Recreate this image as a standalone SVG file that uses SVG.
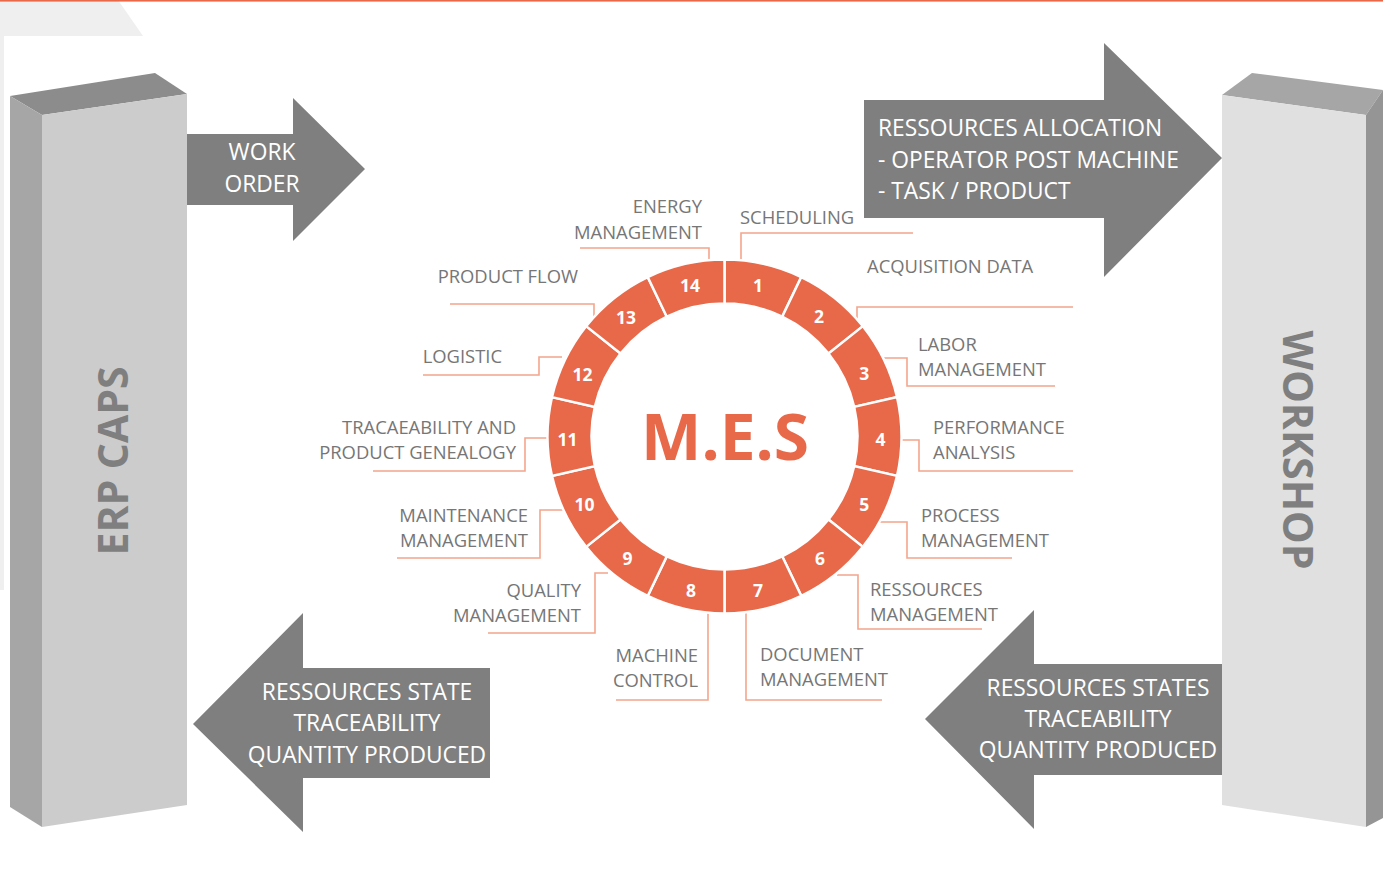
<svg xmlns="http://www.w3.org/2000/svg" width="1383" height="881" viewBox="0 0 1383 881">
<style>
.arr{fill:#7f7f7f}
.at{font-family:"Open Sans","Liberation Sans",sans-serif;font-size:22.8px;fill:#ffffff}
.lb{font-family:"Open Sans","Liberation Sans",sans-serif;font-size:18.4px;fill:#767676}
.seg{fill:#e8694a;stroke:#ffffff;stroke-width:2.5}
.num{font-family:"Open Sans","Liberation Sans",sans-serif;font-size:17.5px;font-weight:700;fill:#ffffff;text-anchor:middle}
.con{fill:none;stroke:#f4a58c;stroke-width:1.6}
.big{font-family:"Open Sans","Liberation Sans",sans-serif;font-size:41px;font-weight:700;fill:#7f7f7f;text-anchor:middle}
.e{text-anchor:end}
.m{text-anchor:middle}
</style>
<rect x="0" y="0" width="1383" height="881" fill="#ffffff"/>
<polygon points="0,0 118,0 143,36 4,36 4,590 0,590" fill="#efefef"/>
<rect x="0" y="0" width="1383" height="1.6" fill="#e8694a"/>

<g id="erp">
<polygon points="10,96 155,73 187,94 42,115" fill="#8c8c8c"/>
<polygon points="10,96 42,115 42,827 10,807" fill="#a6a6a6"/>
<polygon points="42,115 187,94 187,805 42,827" fill="#cccccc"/>
<text class="big" transform="translate(128,461) rotate(-90)">ERP CAPS</text>
</g>

<g id="workshop">
<polygon points="1222,95 1252,73 1383,90 1366,115" fill="#a6a6a6"/>
<polygon points="1366,115 1383,90 1383,818 1366,827" fill="#959595"/>
<polygon points="1222,95 1366,115 1366,827 1222,805" fill="#e0e0e0"/>
<text class="big" transform="translate(1283,450) rotate(90)">WORKSHOP</text>
</g>

<g id="work-order">
<path class="arr" d="M187,134 H293 V98 L365,169 L293,241 V205 H187 Z"/>
<text class="at m" x="262" y="160">WORK</text>
<text class="at m" x="262" y="192">ORDER</text>
</g>

<g id="allocation">
<path class="arr" d="M864,100 H1104 V43 L1222,158 L1104,277 V218 H864 Z"/>
<text class="at" x="878" y="136">RESSOURCES ALLOCATION</text>
<text class="at" x="878" y="168">- OPERATOR POST MACHINE</text>
<text class="at" x="878" y="199">- TASK / PRODUCT</text>
</g>

<g id="state-left">
<path class="arr" d="M490,668 H303 V613 L193,724 L303,832 V778 H490 Z"/>
<text class="at m" x="367" y="700">RESSOURCES STATE</text>
<text class="at m" x="367" y="731">TRACEABILITY</text>
<text class="at m" x="367" y="763">QUANTITY PRODUCED</text>
</g>

<g id="state-right">
<path class="arr" d="M1222,664 H1034 V610 L925,719 L1034,829 V775 H1222 Z"/>
<text class="at m" x="1098" y="696">RESSOURCES STATES</text>
<text class="at m" x="1098" y="727">TRACEABILITY</text>
<text class="at m" x="1098" y="758">QUANTITY PRODUCED</text>
</g>

<g id="connectors">
<polyline class="con" points="741,262 741,233 913,233"/>
<polyline class="con" points="857,322 857,307 1073,307"/>
<polyline class="con" points="709,261 709,248 580,248"/>
<polyline class="con" points="594,322 594,304 450,304"/>
<polyline class="con" points="562,357 539,357 539,375 423,375"/>
<polyline class="con" points="549,438 525,438 525,471 373,471"/>
<polyline class="con" points="563,510 540,510 540,558 397,558"/>
<polyline class="con" points="608,573 595,573 595,633 488,633"/>
<polyline class="con" points="708,612 708,700 616,700"/>
<polyline class="con" points="746,612 746,700 882,700"/>
<polyline class="con" points="837,575 858,575 858,629 982,629"/>
<polyline class="con" points="879,522 907,522 907,558 1012,558"/>
<polyline class="con" points="899,440 919,440 919,471 1073,471"/>
<polyline class="con" points="883,358 907,358 907,386 1055,386"/>
</g>

<g id="mes">
<text x="725" y="460" font-family="'Open Sans','Liberation Sans',sans-serif" font-size="64" font-weight="700" fill="#e8694a" text-anchor="middle">M.E.S</text>
</g>

<g id="seg1"><path class="seg" d="M724.5,259.5 A177,177 0 0 1 801.3,277.03 L782.21,316.67 A133,133 0 0 0 724.5,303.5 Z"/><text class="num" x="758" y="292">1</text></g>
<g id="seg2"><path class="seg" d="M801.3,277.03 A177,177 0 0 1 862.88,326.14 L828.48,353.58 A133,133 0 0 0 782.21,316.67 Z"/><text class="num" x="819" y="323">2</text></g>
<g id="seg3"><path class="seg" d="M862.88,326.14 A177,177 0 0 1 897.06,397.11 L854.17,406.9 A133,133 0 0 0 828.48,353.58 Z"/><text class="num" x="864.2" y="380">3</text></g>
<g id="seg4"><path class="seg" d="M897.06,397.11 A177,177 0 0 1 897.06,475.89 L854.17,466.1 A133,133 0 0 0 854.17,406.9 Z"/><text class="num" x="880.5" y="446">4</text></g>
<g id="seg5"><path class="seg" d="M897.06,475.89 A177,177 0 0 1 862.88,546.86 L828.48,519.42 A133,133 0 0 0 854.17,466.1 Z"/><text class="num" x="864.2" y="511">5</text></g>
<g id="seg6"><path class="seg" d="M862.88,546.86 A177,177 0 0 1 801.3,595.97 L782.21,556.33 A133,133 0 0 0 828.48,519.42 Z"/><text class="num" x="820" y="565">6</text></g>
<g id="seg7"><path class="seg" d="M801.3,595.97 A177,177 0 0 1 724.5,613.5 L724.5,569.5 A133,133 0 0 0 782.21,556.33 Z"/><text class="num" x="758" y="597">7</text></g>
<g id="seg8"><path class="seg" d="M724.5,613.5 A177,177 0 0 1 647.7,595.97 L666.79,556.33 A133,133 0 0 0 724.5,569.5 Z"/><text class="num" x="691" y="597">8</text></g>
<g id="seg9"><path class="seg" d="M647.7,595.97 A177,177 0 0 1 586.12,546.86 L620.52,519.42 A133,133 0 0 0 666.79,556.33 Z"/><text class="num" x="627.5" y="564.5">9</text></g>
<g id="seg10"><path class="seg" d="M586.12,546.86 A177,177 0 0 1 551.94,475.89 L594.83,466.1 A133,133 0 0 0 620.52,519.42 Z"/><text class="num" x="584.5" y="511">10</text></g>
<g id="seg11"><path class="seg" d="M551.94,475.89 A177,177 0 0 1 551.94,397.11 L594.83,406.9 A133,133 0 0 0 594.83,466.1 Z"/><text class="num" x="567.5" y="446">11</text></g>
<g id="seg12"><path class="seg" d="M551.94,397.11 A177,177 0 0 1 586.12,326.14 L620.52,353.58 A133,133 0 0 0 594.83,406.9 Z"/><text class="num" x="582.5" y="381">12</text></g>
<g id="seg13"><path class="seg" d="M586.12,326.14 A177,177 0 0 1 647.7,277.03 L666.79,316.67 A133,133 0 0 0 620.52,353.58 Z"/><text class="num" x="626" y="324">13</text></g>
<g id="seg14"><path class="seg" d="M647.7,277.03 A177,177 0 0 1 724.5,259.5 L724.5,303.5 A133,133 0 0 0 666.79,316.67 Z"/><text class="num" x="690" y="292">14</text></g>

<g id="labels">
<text class="lb" x="740" y="224">SCHEDULING</text>
<text class="lb" x="867" y="273">ACQUISITION DATA</text>
<text class="lb e" x="702" y="213">ENERGY</text>
<text class="lb e" x="702" y="239">MANAGEMENT</text>
<text class="lb e" x="578" y="283">PRODUCT FLOW</text>
<text class="lb e" x="502" y="363">LOGISTIC</text>
<text class="lb e" x="516" y="434">TRACAEABILITY AND</text>
<text class="lb e" x="516" y="459">PRODUCT GENEALOGY</text>
<text class="lb e" x="528" y="522">MAINTENANCE</text>
<text class="lb e" x="528" y="547">MANAGEMENT</text>
<text class="lb e" x="581" y="597">QUALITY</text>
<text class="lb e" x="581" y="622">MANAGEMENT</text>
<text class="lb e" x="698" y="662">MACHINE</text>
<text class="lb e" x="698" y="687">CONTROL</text>
<text class="lb" x="760" y="661">DOCUMENT</text>
<text class="lb" x="760" y="686">MANAGEMENT</text>
<text class="lb" x="870" y="596">RESSOURCES</text>
<text class="lb" x="870" y="621">MANAGEMENT</text>
<text class="lb" x="921" y="522">PROCESS</text>
<text class="lb" x="921" y="547">MANAGEMENT</text>
<text class="lb" x="933" y="434">PERFORMANCE</text>
<text class="lb" x="933" y="459">ANALYSIS</text>
<text class="lb" x="918" y="351">LABOR</text>
<text class="lb" x="918" y="376">MANAGEMENT</text>
</g>
</svg>
